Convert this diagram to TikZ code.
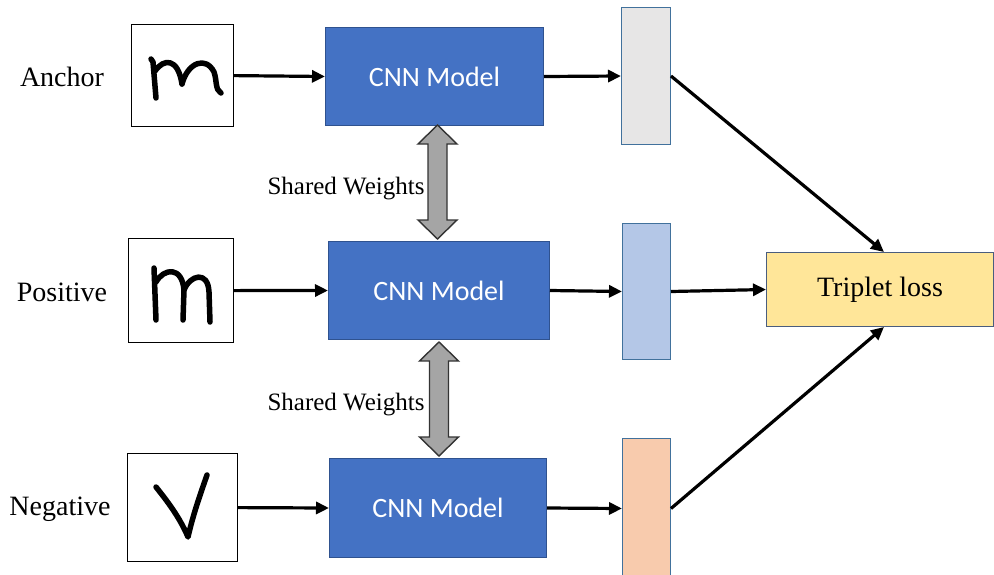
\documentclass[tikz,border=0pt]{standalone}
\usepackage{fontspec}
\setmainfont{Liberation Serif}
\newfontfamily\cnnfont{Carlito}
\usetikzlibrary{arrows.meta,calc}

\definecolor{cnnfill}{HTML}{4472C4}
\definecolor{cnnline}{HTML}{2F528F}
\definecolor{barline}{HTML}{41719C}
\definecolor{embA}{HTML}{E7E6E6}
\definecolor{embB}{HTML}{B4C7E7}
\definecolor{embC}{HTML}{F8CBAD}
\definecolor{lossfill}{HTML}{FFE699}
\definecolor{lossline}{HTML}{4A5D7E}
\definecolor{sharedfill}{HTML}{A5A5A5}

\tikzset{
  inputbox/.style={draw=black, line width=1.2pt, anchor=north west, inner sep=0pt},
  cnnbox/.style={draw=cnnline, fill=cnnfill, line width=1pt, anchor=north west,
                 inner sep=0pt, text=white, font=\cnnfont\fontsize{28}{30}\selectfont},
  embbox/.style={draw=barline, line width=1pt, anchor=north west, inner sep=0pt},
  lossbox/.style={draw=lossline, fill=lossfill, line width=1pt, anchor=north west,
                  inner sep=0pt, font=\fontsize{28}{30}\selectfont},
  rowlabel/.style={font=\fontsize{28}{30}\selectfont},
  sharedlabel/.style={font=\fontsize{25}{27}\selectfont},
  flow/.style={line width=3.2pt, -{Triangle[length=13pt,width=12pt]}},
  sharedw/.style={draw=black!80, fill=sharedfill, line width=1.4pt, line join=miter},
  ink/.style={line width=5.5pt, line cap=round, line join=round},
}

% vertical double block arrow between two tip points
\newcommand\weightarrow[2]{%
  \draw[sharedw] (#1) -- ++(19.5,19) -- ++(-10,0) -- ($(#2)+(9.5,-19)$)
    -- ++(10,0) -- (#2) -- ++(-19.5,-19) -- ++(10,0) -- ($(#1)+(-9.5,19)$)
    -- ++(-10,0) -- cycle;}

\begin{document}
\begin{tikzpicture}[x=1pt,y=-1pt]
\useasboundingbox (0,0) rectangle (994,574);

% row labels
\node[rowlabel] (labA) at (62,77) {Anchor};
\node[rowlabel] (labB) at (62,292) {Positive};
\node[rowlabel] (labC) at (60,509) {Negative};

% input images
\node[inputbox, minimum width=102pt, minimum height=102pt] (imgA) at (131,24) {};
\node[inputbox, minimum width=105pt, minimum height=104pt] (imgB) at (128,238) {};
\node[inputbox, minimum width=110pt, minimum height=108pt] (imgC) at (127,453) {};

% handwritten glyphs
\draw[ink] (151,59) -- (153,62) -- (156,98);
\draw[ink] (155,71) .. controls (164,58) and (178,58) .. (182,84);
\draw[ink] (182,84) .. controls (188,62) and (206,56) .. (214,72)
           .. controls (217,80) and (215,90) .. (221,93);
\draw[ink] (154,268) -- (156,320);
\draw[ink] (156,282) .. controls (164,268) and (182,266) .. (184,290) -- (183,320);
\draw[ink] (184,290) .. controls (190,275) and (208,270) .. (209,292) -- (210,322);
\draw[ink] (156,487) .. controls (168,502) and (180,518) .. (188,537)
           .. controls (193,515) and (200,495) .. (207,475);

% CNN models
\node[cnnbox, minimum width=218pt, minimum height=98pt] (cnnA) at (325,27) {CNN Model};
\node[cnnbox, minimum width=221pt, minimum height=98pt] (cnnB) at (328,241) {CNN Model};
\node[cnnbox, minimum width=217pt, minimum height=99pt] (cnnC) at (329,458) {CNN Model};

% embeddings
\node[embbox, fill=embA, minimum width=49pt, minimum height=137pt] (embA) at (621,7) {};
\node[embbox, fill=embB, minimum width=48pt, minimum height=136pt] (embB) at (622,223) {};
\node[embbox, fill=embC, minimum width=48pt, minimum height=140pt] (embC) at (622,438) {};

% loss
\node[lossbox, minimum width=227pt, minimum height=74pt] (loss) at (766,252) {Triplet loss};

% shared weights
\coordinate (w1t) at ($(cnnA.south)+(3,-1)$);
\coordinate (w1b) at ($(w1t |- cnnB.north)+(0,-2)$);
\coordinate (w2t) at ($(cnnB.south)+(0,2)$);
\coordinate (w2b) at ($(w2t |- cnnC.north)+(0,-2)$);
\weightarrow{w1t}{w1b}
\weightarrow{w2t}{w2b}
\node[sharedlabel] (swA) at (346,189) {Shared Weights};
\node[sharedlabel] (swB) at (346,405) {Shared Weights};

% data flow
\draw[flow] (imgA.east) -- (cnnA.west);
\draw[flow] (imgB.east) -- (cnnB.west);
\draw[flow] (imgC.east) -- (cnnC.west);
\draw[flow] (cnnA.east) -- (embA.west);
\draw[flow] (cnnB.east) -- (embB.west);
\draw[flow] (cnnC.east) -- (embC.west);
\draw[flow] (embA.east) -- ($(loss.north)+(4,0)$);
\draw[flow] (embB.east) -- (loss.west);
\draw[flow] (embC.east) -- ($(loss.south)+(4,0)$);
\end{tikzpicture}
\end{document}
